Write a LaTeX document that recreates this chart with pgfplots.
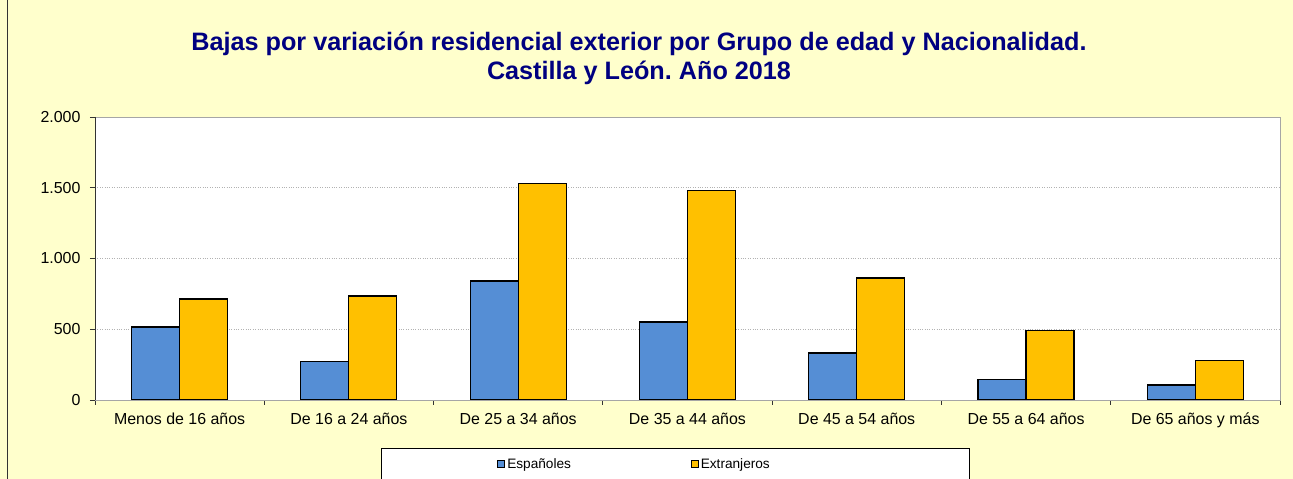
\documentclass[border=0pt]{standalone}
\usepackage{fontspec}
\setmainfont{Liberation Sans}
\usepackage{pgfplots}
\pgfplotsset{compat=1.18}
\pgfdeclarelayer{background}
\pgfsetlayers{background,main}

\definecolor{bgyellow}{HTML}{FFFFCC}
\definecolor{espblue}{HTML}{558ED5}
\definecolor{extorange}{HTML}{FFC000}
\definecolor{titlenavy}{HTML}{000080}

\begin{document}
\begin{tikzpicture}
\begin{axis}[
    scale only axis,
    width=1185bp, height=283bp,
    axis background/.style={fill=white},
    axis line style={gray!70,line width=0.8bp},
    ybar=0pt,
    bar width=48bp,
    xmin=-0.5, xmax=6.5,
    ymin=0, ymax=2000,
    xtick={0,1,2,3,4,5,6},
    xticklabels={Menos de 16 años, De 16 a 24 años, De 25 a 34 años, De 35 a 44 años, De 45 a 54 años, De 55 a 64 años, De 65 años y más},
    minor xtick={-0.5,0.5,1.5,2.5,3.5,4.5,5.5,6.5},
    ytick={0,500,1000,1500,2000},
    xtick pos=bottom, ytick pos=left,
    tick align=outside,
    x tick style={draw=none},
    minor x tick style={draw=black!80,line width=0.8bp},
    minor tick length=5bp,
    major tick length=5bp,
    y tick style={black!80,line width=0.8bp},
    ymajorgrids,
    major grid style={gray!60,dotted,line width=0.6bp},
    tick label style={font=\fontsize{16}{18}\selectfont,text=black},
    xticklabel style={yshift=-4bp,text height=12bp,text depth=4bp},
    yticklabel style={xshift=-6bp},
    /pgf/number format/.cd, 1000 sep={.}, assume math mode=true,
    /pgfplots/.cd,
    legend columns=2,
    legend style={at={(0.3395,-0.226)},anchor=west,draw=none,fill=none,inner sep=0pt,
        font=\fontsize{13.7}{15}\selectfont,
        /tikz/every even column/.append style={column sep=118bp}},
    legend image code/.code={\draw[#1,draw=black,line width=0.8bp] (0bp,-3.5bp) rectangle (7bp,3.5bp);},
    legend cell align=left,
]
\addplot[fill=espblue,draw=black,line width=1.1bp] coordinates {
    (0,516) (1,269) (2,841) (3,551) (4,332) (5,148) (6,106)
};
\addplot[fill=extorange,draw=black,line width=1.1bp] coordinates {
    (0,714) (1,735) (2,1527) (3,1478) (4,862) (5,488) (6,276)
};
\legend{Españoles,Extranjeros}
\draw[black!80,line width=0.8bp] (rel axis cs:0,1) -- (rel axis cs:0,0) -- (rel axis cs:1,0);
\end{axis}

\begin{scope}[shift={(-95bp,-79bp)},x=1bp,y=1bp]
\begin{pgfonlayer}{background}
\fill[bgyellow] (0,0) rectangle (1293,479);
\draw[black!80,line width=1bp] (7.5,0) -- (7.5,479);
\draw[black,fill=white,line width=0.8bp] (381,-1) rectangle (969,31);
\end{pgfonlayer}
\node[align=center,font=\fontsize{25.3}{29}\selectfont\bfseries,text=titlenavy]
  at (639,420.5) {Bajas por variación residencial exterior por Grupo de edad y Nacionalidad.\\Castilla y León.\ Año 2018};
\pgfresetboundingbox
\path[use as bounding box] (0,0) rectangle (1293,479);
\end{scope}
\end{tikzpicture}
\end{document}
